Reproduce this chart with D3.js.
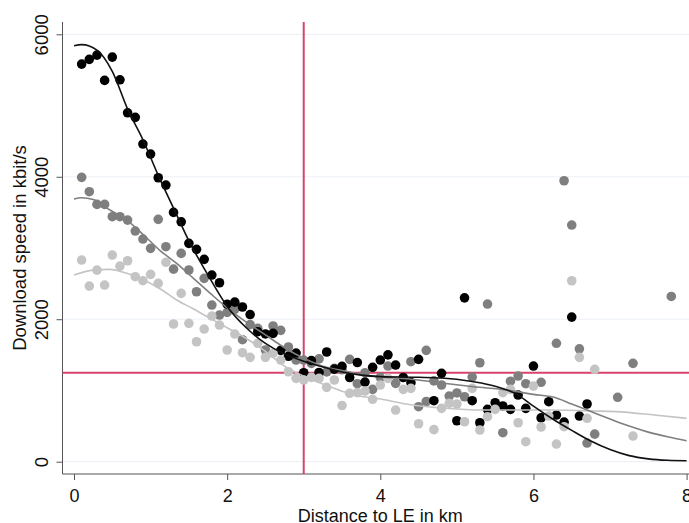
<!DOCTYPE html>
<html>
<head>
<meta charset="utf-8">
<script src="https://cdn.jsdelivr.net/npm/d3@7"></script>
<style>
  body { margin: 0; background: #fff; }
  svg { display: block; font-family: "Liberation Sans", Arial, sans-serif; }
</style>
</head>
<body>
<div id="chart"></div>
<script>
// Size of the picture
const width = 689;
const height = 523;

// Tick values
const xTicks = [0, 2, 4, 6, 8];
const yTicks = [0, 2000, 4000, 6000];

// Reference lines
const refX = 3;
const refY = 1250;

// Scatter: black series (distance km, speed kbit/s)
const blackX = [0.1, 0.2, 0.3, 0.4, 0.5, 0.6, 0.7, 0.8, 0.9, 1.0, 1.1, 1.2, 1.3, 1.4, 1.5, 1.6, 1.7, 1.8, 1.9, 2.0,
  2.1, 2.2, 2.3, 2.4, 2.5, 2.6, 2.7, 2.8, 2.9, 3.0, 3.1, 3.2, 3.3, 3.4, 3.5, 3.6, 3.7, 3.8, 3.9, 4.0,
  4.1, 4.2, 4.3, 4.4, 4.5, 4.7, 4.8, 5.0, 5.1, 5.2, 5.3, 5.4, 5.5, 5.6, 5.7, 5.8, 5.9, 6.0,
  6.1, 6.2, 6.3, 6.4, 6.5, 6.6, 6.7];
const blackY = [5582, 5648, 5708, 5353, 5680, 5361, 4898, 4834, 4459, 4318, 3986, 3883, 3500, 3368, 3065, 2981, 2841, 2620, 2512, 2211,
  2240, 2172, 2066, 1825, 1793, 1802, 1563, 1480, 1525, 1249, 1420, 1252, 1540, 1300, 1338, 1182, 1392, 1118, 1325, 1427,
  1500, 1357, 1182, 1110, 1437, 856, 1240, 575, 2300, 856, 547, 735, 828, 782, 735, 936, 749, 1343,
  615, 842, 655, 555, 2030, 641, 810];

// Scatter: dark grey series
const darkX = [0.1, 0.2, 0.3, 0.4, 0.5, 0.6, 0.7, 0.8, 0.9, 1.0, 1.1, 1.2, 1.3, 1.4, 1.5, 1.6, 1.7, 1.8, 1.9, 2.0,
  2.1, 2.2, 2.3, 2.4, 2.5, 2.6, 2.7, 2.8, 2.9, 3.0, 3.1, 3.2, 3.3, 3.4, 3.5, 3.6, 3.7, 3.8, 3.9, 4.0,
  4.1, 4.2, 4.4, 4.5, 4.6, 4.6, 4.7, 4.8, 4.9, 5.0, 5.1, 5.2, 5.3, 5.4, 5.6, 5.7, 5.8, 5.9,
  6.1, 6.3, 6.4, 6.5, 6.6, 6.7, 6.8, 7.1, 7.3, 7.8];
const darkY = [3992, 3790, 3612, 3612, 3439, 3439, 3392, 3238, 3126, 2995, 3402, 3018, 2703, 2925, 2691, 2386, 2574, 2199, 2059, 2095,
  2139, 1713, 1925, 1872, 1568, 1905, 1844, 1610, 1427, 1427, 1380, 1444, 1260, 1311, 1290, 1437, 1095, 1249, 1016, 1184,
  1343, 1100, 1404, 772, 1563, 845, 1135, 1077, 922, 965, 912, 1188, 1389, 2213, 407, 1130, 1203, 1095,
  1115, 1662, 3944, 3322, 1584, 262, 387, 904, 1381, 2320];

// Scatter: light grey series
const lightX = [0.1, 0.2, 0.3, 0.4, 0.5, 0.6, 0.7, 0.8, 0.9, 1.0, 1.1, 1.2, 1.3, 1.4, 1.5, 1.6, 1.7, 1.8, 1.9, 2.0,
  2.1, 2.2, 2.3, 2.4, 2.5, 2.6, 2.7, 2.8, 2.9, 3.0, 3.1, 3.2, 3.3, 3.4, 3.5, 3.6, 3.7, 3.8, 3.9, 4.0,
  4.1, 4.2, 4.3, 4.4, 4.5, 4.7, 4.8, 4.9, 5.0, 5.1, 5.2, 5.3, 5.4, 5.5, 5.6, 5.7, 5.8, 5.9, 6.0,
  6.1, 6.2, 6.3, 6.4, 6.5, 6.6, 6.7, 6.8, 7.3];
const lightY = [2831, 2466, 2690, 2480, 2901, 2746, 2821, 2597, 2541, 2630, 2504, 2799, 1933, 2363, 1942, 1684, 1862, 2045, 1918, 1568,
  1792, 1530, 1465, 1662, 1465, 1521, 1427, 1263, 1170, 1147, 1184, 1170, 1044, 1147, 789, 960, 969, 992, 876, 1077,
  1170, 725, 1016, 1030, 533, 450, 749, 820, 810, 561, 1030, 445, 632, 735, 969, 1016, 547, 281, 1062,
  487, 641, 248, 491, 2540, 1465, 609, 1297, 360];

// Fitted curves
const blackFitX = [0, 0.1, 0.3, 0.5, 0.7, 0.9, 1.1, 1.3, 1.5, 1.75, 2.0, 2.25, 2.5, 2.75, 3.0, 3.25, 3.5, 3.75, 4.0, 4.5, 4.8, 5.2, 5.5, 5.8, 6.0, 6.25, 6.5, 6.75, 7.0, 7.25, 7.5, 7.75, 8.0];
const blackFitY = [5840, 5855, 5778, 5480, 4950, 4520, 4020, 3560, 3100, 2620, 2180, 1880, 1660, 1510, 1410, 1330, 1260, 1215, 1195, 1185, 1175, 1125, 1060, 935, 780, 600, 440, 290, 170, 85, 40, 20, 14];

const darkFitX = [0, 0.1, 0.25, 0.47, 0.69, 0.91, 1.12, 1.34, 1.56, 1.78, 2.0, 2.25, 2.5, 2.75, 3.0, 3.25, 3.5, 4.0, 4.35, 4.8, 5.22, 5.66, 6.0, 6.27, 6.5, 6.75, 7.0, 7.25, 7.5, 7.75, 8.0];
const darkFitY = [3687, 3705, 3680, 3533, 3392, 3182, 2967, 2785, 2574, 2363, 2160, 1960, 1780, 1600, 1451, 1340, 1280, 1190, 1165, 1105, 1053, 1006, 945, 905, 810, 705, 600, 500, 415, 350, 295];

const lightFitX = [0, 0.25, 0.47, 0.69, 0.91, 1.15, 1.34, 1.55, 1.75, 2.0, 2.25, 2.5, 2.75, 3.0, 3.25, 3.5, 3.75, 4.0, 4.4, 4.85, 5.3, 6.2, 6.8, 7.14, 7.58, 8.0];
const lightFitY = [2620, 2690, 2700, 2644, 2550, 2410, 2270, 2150, 2030, 1880, 1730, 1550, 1340, 1200, 1090, 990, 920, 880, 800, 750, 725, 725, 712, 700, 655, 609];

const svg = d3.select('#chart')
  .append('svg')
  .attr('width', width)
  .attr('height', height);

const xScale = d3.scaleLinear().domain([0, 8]).range([74, 686.6]);
const yScale = d3.scaleLinear().domain([0, 6000]).range([461.7, 34.3]);

const plotLeft = 62.5, plotBottom = 474, plotTop = 22, plotRight = width;

// Gridlines
svg.selectAll('.grid')
  .data(yTicks)
  .enter().append('line')
  .attr('x1', plotLeft).attr('x2', plotRight)
  .attr('y1', d => yScale(d)).attr('y2', d => yScale(d))
  .attr('stroke', '#edf1f6')
  .attr('stroke-width', 1.2);

// Axes
const xAxis = d3.axisBottom(xScale).tickValues(xTicks).tickSize(6).tickFormat(d3.format('d'));
const gx = svg.append('g')
  .attr('transform', `translate(0,${plotBottom})`)
  .call(xAxis);
gx.select('.domain').remove();
gx.append('line')
  .attr('x1', plotLeft).attr('x2', plotRight)
  .attr('stroke', '#555');
gx.selectAll('.tick line').attr('stroke', '#555');
gx.selectAll('.tick text')
  .attr('y', 28)
  .attr('dy', 0)
  .attr('fill', '#111')
  .style('font-size', '18px');

const yAxis = d3.axisLeft(yScale).tickValues(yTicks).tickSize(6).tickFormat(d3.format('d'));
const gy = svg.append('g')
  .attr('transform', `translate(${plotLeft},0)`)
  .call(yAxis);
gy.select('.domain').remove();
gy.append('line')
  .attr('y1', plotTop).attr('y2', plotBottom)
  .attr('stroke', '#555');
gy.selectAll('.tick line').attr('stroke', '#555');
gy.selectAll('.tick text')
  .attr('x', 0).attr('dy', 0)
  .attr('transform', 'translate(-14.5,0) rotate(-90)')
  .attr('text-anchor', 'middle')
  .attr('fill', '#111')
  .style('font-size', '18.5px');

// Axis titles
svg.append('text')
  .attr('x', xScale(4))
  .attr('y', 522)
  .attr('text-anchor', 'middle')
  .attr('fill', '#111')
  .style('font-size', '18px')
  .text('Distance to LE in km');

svg.append('text')
  .attr('transform', `translate(26,${(plotTop + plotBottom) / 2}) rotate(-90)`)
  .attr('text-anchor', 'middle')
  .attr('fill', '#111')
  .style('font-size', '18.5px')
  .text('Download speed in kbit/s');

// Reference lines
svg.append('line')
  .attr('x1', xScale(refX)).attr('x2', xScale(refX))
  .attr('y1', plotTop).attr('y2', plotBottom)
  .attr('stroke', '#d8436b').attr('stroke-width', 2);
svg.append('line')
  .attr('x1', plotLeft).attr('x2', plotRight)
  .attr('y1', yScale(refY)).attr('y2', yScale(refY))
  .attr('stroke', '#d8436b').attr('stroke-width', 2);

// Points
const series = [
  { xs: darkX, ys: darkY, color: '#7f7f7f' },
  { xs: blackX, ys: blackY, color: '#000000' },
  { xs: lightX, ys: lightY, color: '#c4c4c4' }
];
series.forEach(s => {
  svg.append('g').selectAll('circle')
    .data(s.xs.map((x, i) => ({ x: x, y: s.ys[i] })))
    .enter().append('circle')
    .attr('cx', d => xScale(d.x))
    .attr('cy', d => yScale(d.y))
    .attr('r', 4.8)
    .attr('fill', s.color);
});

// Fitted lines
const line = d3.line()
  .x(d => xScale(d.x))
  .y(d => yScale(d.y))
  .curve(d3.curveMonotoneX);
const fits = [
  { xs: lightFitX, ys: lightFitY, color: '#c4c4c4' },
  { xs: darkFitX, ys: darkFitY, color: '#7f7f7f' },
  { xs: blackFitX, ys: blackFitY, color: '#111111' }
];
fits.forEach(f => {
  svg.append('path')
    .datum(f.xs.map((x, i) => ({ x: x, y: f.ys[i] })))
    .attr('d', line)
    .attr('fill', 'none')
    .attr('stroke', f.color)
    .attr('stroke-width', 1.6);
});
</script>
</body>
</html>
